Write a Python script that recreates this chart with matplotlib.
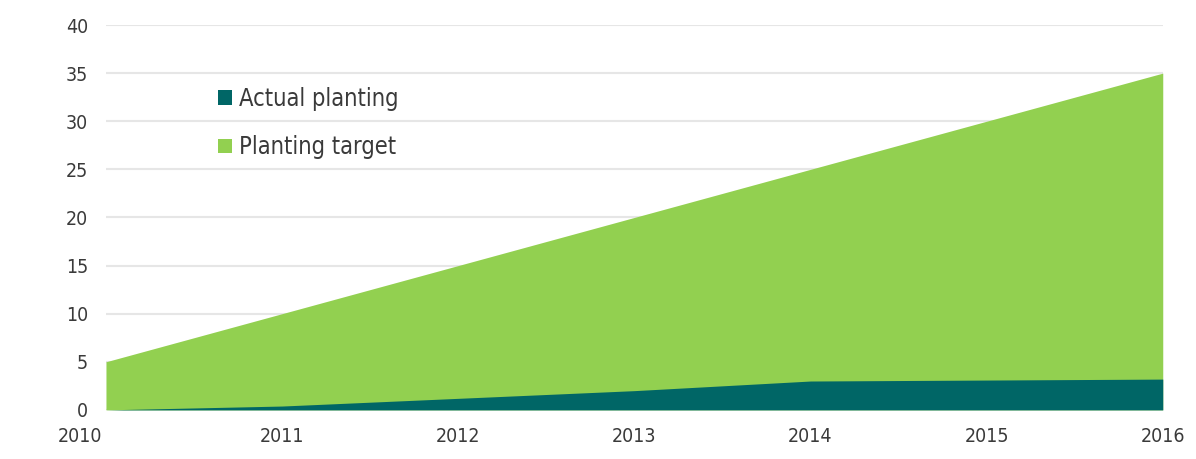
import matplotlib.pyplot as plt
from matplotlib.patches import Patch
from matplotlib.transforms import ScaledTranslation

years = [2010, 2011, 2012, 2013, 2014, 2015, 2016]
planting_target = [5, 10, 15, 20, 25, 30, 35]
actual_planting = [0.0, 0.4, 1.2, 2.0, 3.0, 3.1, 3.2]

target_color = "#92d050"
actual_color = "#006666"
text_color = "#3a3a3a"

plt.rcParams['font.family'] = ['DejaVu Sans']
plt.rcParams['font.stretch'] = 'condensed'

fig = plt.figure(figsize=(11.96, 4.59), dpi=100)
ax = fig.add_axes([0.0886, 0.107, 0.8836, 0.8385])

ax.fill_between(years, 0, planting_target, color=target_color, linewidth=0, zorder=2)
ax.fill_between(years, 0, actual_planting, color=actual_color, linewidth=0, zorder=3)

ax.set_xlim(2010, 2016)
ax.set_ylim(0, 40)
ax.set_yticks(range(0, 41, 5))
ax.set_xticks(years)
ax.grid(axis='y', color='#e6e6e6', linewidth=1.5, zorder=0)
ax.set_axisbelow(True)
for s in ax.spines.values():
    s.set_visible(False)
ax.tick_params(length=0, labelsize=14, colors=text_color)
ax.tick_params(axis='y', pad=13)
ax.tick_params(axis='x', pad=12)

# first year label sits left of the axis start
first = ax.get_xticklabels()[0]
first.set_transform(first.get_transform() + ScaledTranslation(-26 / 100, 0, fig.dpi_scale_trans))

handles = [Patch(facecolor=actual_color, label="Actual planting"),
           Patch(facecolor=target_color, label="Planting target")]
ax.legend(handles=handles, loc='upper left', bbox_to_anchor=(0.086, 0.895),
          frameon=False, fontsize=17, handlelength=0.58, handleheight=0.58,
          handletextpad=0.3, labelspacing=1.05, labelcolor=text_color)

fig.savefig("out.png", dpi=100)
